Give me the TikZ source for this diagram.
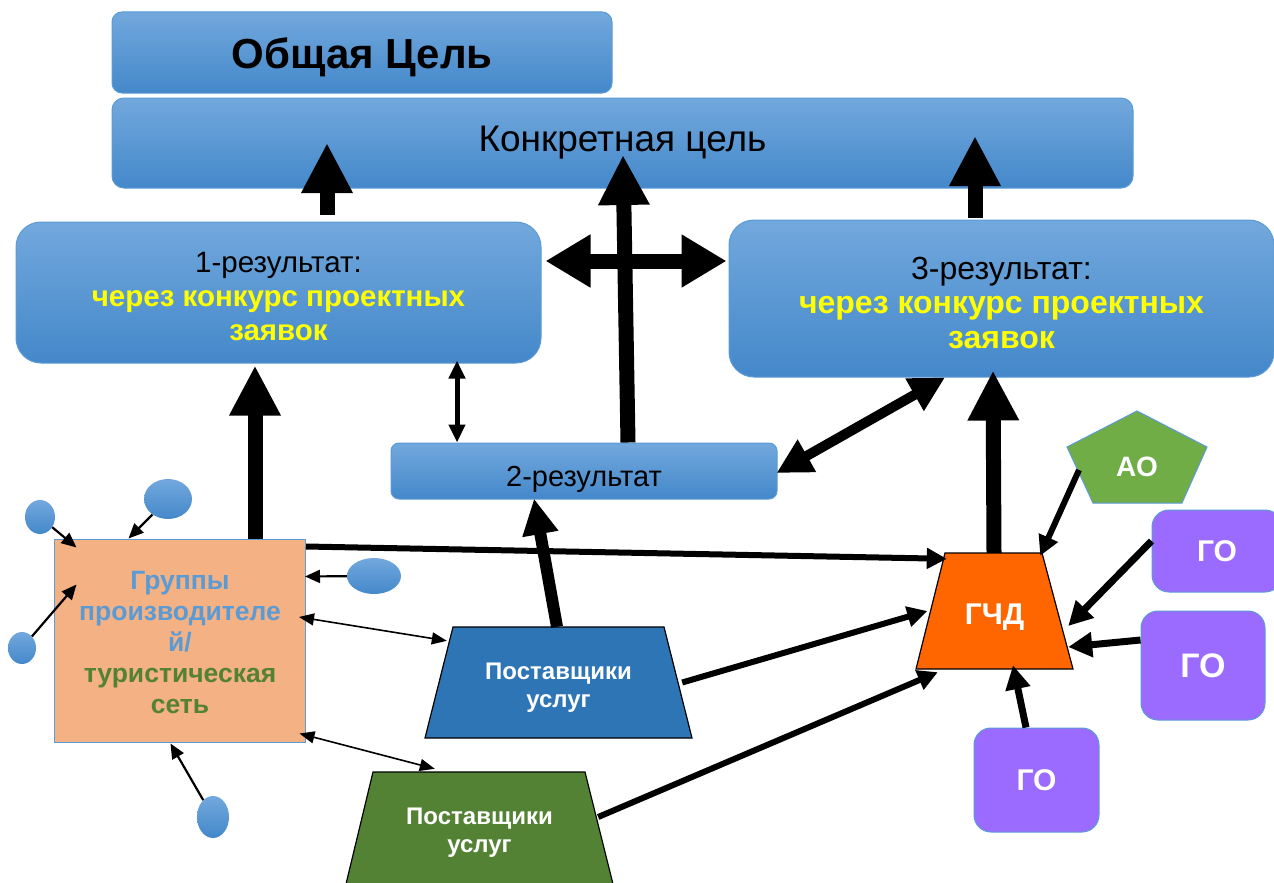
\documentclass[tikz,border=0pt]{standalone}
\usepackage{fontspec}
\setmainfont{Liberation Sans}
\usetikzlibrary{arrows.meta,shapes.geometric,calc}
\definecolor{boxtop}{RGB}{114,168,221}
\definecolor{boxbot}{RGB}{68,136,202}
\definecolor{boxline}{RGB}{91,155,213}
\definecolor{peach}{RGB}{244,177,131}
\definecolor{grpblue}{RGB}{91,155,213}
\definecolor{grpgreen}{RGB}{84,130,53}
\definecolor{trapblue}{RGB}{46,117,182}
\definecolor{trapgreen}{RGB}{84,130,53}
\definecolor{orng}{RGB}{255,102,0}
\definecolor{aogreen}{RGB}{112,173,71}
\definecolor{purp}{RGB}{155,106,255}
\definecolor{yel}{RGB}{255,255,0}
\tikzset{
  bluebox/.style={draw=boxline, line width=1pt, rounded corners=12pt, top color=boxtop, bottom color=boxbot, inner sep=0pt, align=center},
  ell/.style={ellipse, top color=boxtop, bottom color=boxbot, inner sep=0pt, draw=none},
  trapline/.style={draw=black, line width=1.2pt},
  holder/.style={inner sep=0pt, draw=none},
  gobox/.style={draw=boxline, line width=1pt, fill=purp, rounded corners=17pt, text=white, inner sep=0pt},
  bigarr/.style={line width=15pt, -{Triangle[length=50pt,width=48pt]}},
  bigboth/.style={line width=15pt, {Triangle[length=45pt,width=50pt]}-{Triangle[length=45pt,width=50pt]}},
  medboth/.style={line width=10pt, {Triangle[length=35pt,width=35pt]}-{Triangle[length=35pt,width=35pt]}},
  medarr/.style={line width=12pt, -{Triangle[length=36pt,width=34pt]}},
  smallboth/.style={line width=5pt, {Triangle[length=18pt,width=16pt]}-{Triangle[length=18pt,width=16pt]}},
  linkarr/.style={line width=6pt, -{Triangle[length=20pt,width=20pt]}},
  goarr/.style={line width=7pt, -{Triangle[length=24pt,width=24pt]}},
  thinarr/.style={line width=2.2pt, -{Triangle[length=15pt,width=13pt]}},
  thinboth/.style={line width=1.6pt, {Triangle[length=15pt,width=12pt]}-{Triangle[length=15pt,width=12pt]}}
}
\begin{document}
\begin{tikzpicture}[x=1pt,y=-1pt]
\useasboundingbox (0,0) rectangle (1274,883);
\fill[white] (0,0) rectangle (1274,883);
\clip (0,0) rectangle (1274,883);
% goal boxes
\node[bluebox, rounded corners=10pt, minimum width=500pt, minimum height=81pt, text height=31pt, text depth=0pt, font=\fontsize{42}{48}\selectfont\bfseries] (gen) at (362,52.5) {Общая Цель};
\node[bluebox, minimum width=1021pt, minimum height=90pt, font=\fontsize{37}{40}\selectfont] (konk) at (622.5,143) {Конкретная цель};
\node[bluebox, rounded corners=25pt, minimum width=525pt, minimum height=141pt,
  label={[font=\fontsize{29.5}{34}\selectfont, align=center, yshift=-4pt]center:{1-результат:\\ \textcolor{yel}{\bfseries через конкурс проектных}\\ \textcolor{yel}{\bfseries заявок}}}] (r1) at (278.5,292.5) {};
\node[bluebox, rounded corners=25pt, minimum width=545pt, minimum height=157pt,
  label={[font=\fontsize{32}{34.5}\selectfont, align=center, yshift=-4pt]center:{3-результат:\\ \textcolor{yel}{\bfseries через конкурс проектных}\\ \textcolor{yel}{\bfseries заявок}}}] (r3) at (1001.5,298.5) {};
\node[bluebox, rounded corners=8pt, minimum width=386pt, minimum height=56pt, text height=30pt, text depth=0pt, font=\fontsize{29}{34}\selectfont] (r2) at (584,471) {2-результат};
% group box
\node[draw=boxline, line width=1pt, fill=peach, minimum width=251pt, minimum height=203pt, inner sep=0pt,
  label={[font=\fontsize{26.5}{31}\selectfont\bfseries, align=center, yshift=-2pt]center:{\textcolor{grpblue}{Группы}\\ \textcolor{grpblue}{производителе}\\ \textcolor{grpblue}{й/}\\ \textcolor{grpgreen}{туристическая}\\ \textcolor{grpgreen}{сеть}}}] (grp) at (180,640.5) {};
% small ellipses
\node[ell, minimum width=30pt, minimum height=34pt] (e1) at (40,517) {};
\node[ell, minimum width=48pt, minimum height=40pt] (e2) at (168,499) {};
\node[ell, minimum width=54pt, minimum height=36pt] (e3) at (374,576) {};
\node[ell, minimum width=28pt, minimum height=32pt] (e4) at (22,648) {};
\node[ell, minimum width=32pt, minimum height=42pt] (e5) at (213,817) {};
% trapezia (shapes drawn directly, named holders carry text and anchors)
\draw[trapline, fill=trapblue] (453,627) -- (664,627) -- (692,738) -- (425,738) -- cycle;
\node[holder, minimum width=267pt, minimum height=111pt,
  label={[text=white, font=\fontsize{24}{28}\selectfont\bfseries, align=center, yshift=-5.5pt]center:{Поставщики\\услуг}}] (btrap) at (558.5,682.5) {};
\draw[trapline, fill=trapgreen] (373,772) -- (585,772) -- (613,884) -- (346,884) -- cycle;
\node[holder, minimum width=267pt, minimum height=112pt,
  label={[text=white, font=\fontsize{24}{28}\selectfont\bfseries, align=center, yshift=-5pt]center:{Поставщики\\услуг}}] (gtrap) at (479.5,828) {};
\draw[trapline, fill=orng] (945,553) -- (1042,553) -- (1073,669) -- (916,669) -- cycle;
\node[holder, minimum width=157pt, minimum height=116pt,
  label={[text=white, font=\fontsize{30}{34}\selectfont\bfseries, yshift=-6pt]center:ГЧД}] (gchd) at (994.5,611) {};
% pentagon
\draw[draw=boxline, line width=1pt, fill=aogreen] (1137,411) -- (1207,447) -- (1182,503) -- (1093,503) -- (1067,447) -- cycle;
\node[text=white, font=\fontsize{28}{32}\selectfont\bfseries] (ao) at (1137,467) {АО};
\coordinate (aoedge) at (1079,470);
% GO boxes
\node[gobox, minimum width=130pt, minimum height=82pt, font=\fontsize{30}{34}\selectfont\bfseries] (go1) at (1217,551) {ГО};
\node[gobox, minimum width=124pt, minimum height=109pt, font=\fontsize{34}{38}\selectfont\bfseries] (go2) at (1203,665.5) {ГО};
\node[gobox, minimum width=125pt, minimum height=104pt, font=\fontsize{30}{34}\selectfont\bfseries] (go3) at (1036.5,780) {ГО};
% thick arrows
\draw[bigarr] ($(r1.north)+(48.5,-7)$) -- ($(konk.center)+(-295.5,0)$);
\draw[bigarr] ($(r3.north)+(-26.5,-2)$) -- ($(konk.center)+(352.5,-7)$);
\draw[bigarr] ($(r2.north)+(44,0)$) -- ($(konk.center)+(0.5,12)$);
\draw[bigboth] ($(r1.east)+(4,-31.5)$) -- ($(r3.west)+(-2,-37.5)$);
\draw[smallboth] ($(r2.north)+(-127,0)$) -- ($(r1.south)+(178.5,-3)$);
\draw[medboth] ($(r2.east)+(-1,2)$) -- ($(r3.south)+(-56.5,0)$);
\draw[bigarr] ($(grp.north)+(75,0)$) -- ($(r1.south)+(-23.5,2)$);
\draw[medarr] ($(btrap.north)+(-1.5,0)$) -- ($(r2.south)+(-50,-1)$);
\draw[bigarr] ($(gchd.north)+(-0.5,0)$) -- ($(r3.south)+(-8.5,-7)$);
% into GChD
\draw[linkarr] (aoedge) -- ($(gchd.north east)+(-33,3)$);
\draw[goarr] ($(go1.west)+(0,-10)$) -- ($(gchd.east)+(-5,15)$);
\draw[goarr] ($(go2.west)+(0,-25.5)$) -- ($(gchd.east)+(-5,36)$);
\draw[goarr] ($(go3.north)+(-10.5,0)$) -- ($(gchd.south)+(18.5,-4)$);
\draw[linkarr] ($(grp.north east)+(0,8)$) -- ($(gchd.north west)+(31,6)$);
\draw[linkarr] ($(btrap.east)+(-10,0)$) -- ($(gchd.west)+(11.5,0)$);
\draw[linkarr] ($(gtrap.east)+(-15,-11)$) -- ($(gchd.south west)+(22,3)$);
% thin arrows
\draw[thinboth] ($(grp.east)+(-7,-23.5)$) -- ($(btrap.north west)+(22,14)$);
\draw[thinboth] ($(grp.south east)+(-6.5,-9)$) -- ($(gtrap.north west)+(89,-3)$);
\draw[thinarr] (e1) -- ($(grp.north west)+(22.5,9)$);
\draw[thinarr] (e2) -- ($(grp.north west)+(74.5,0)$);
\draw[thinarr] (e3) -- ($(grp.north east)+(-1,38)$);
\draw[thinarr] (e4) -- ($(grp.north west)+(22.5,46)$);
\draw[thinarr] (e5) -- ($(grp.south west)+(116.5,1)$);
\end{tikzpicture}
\end{document}
